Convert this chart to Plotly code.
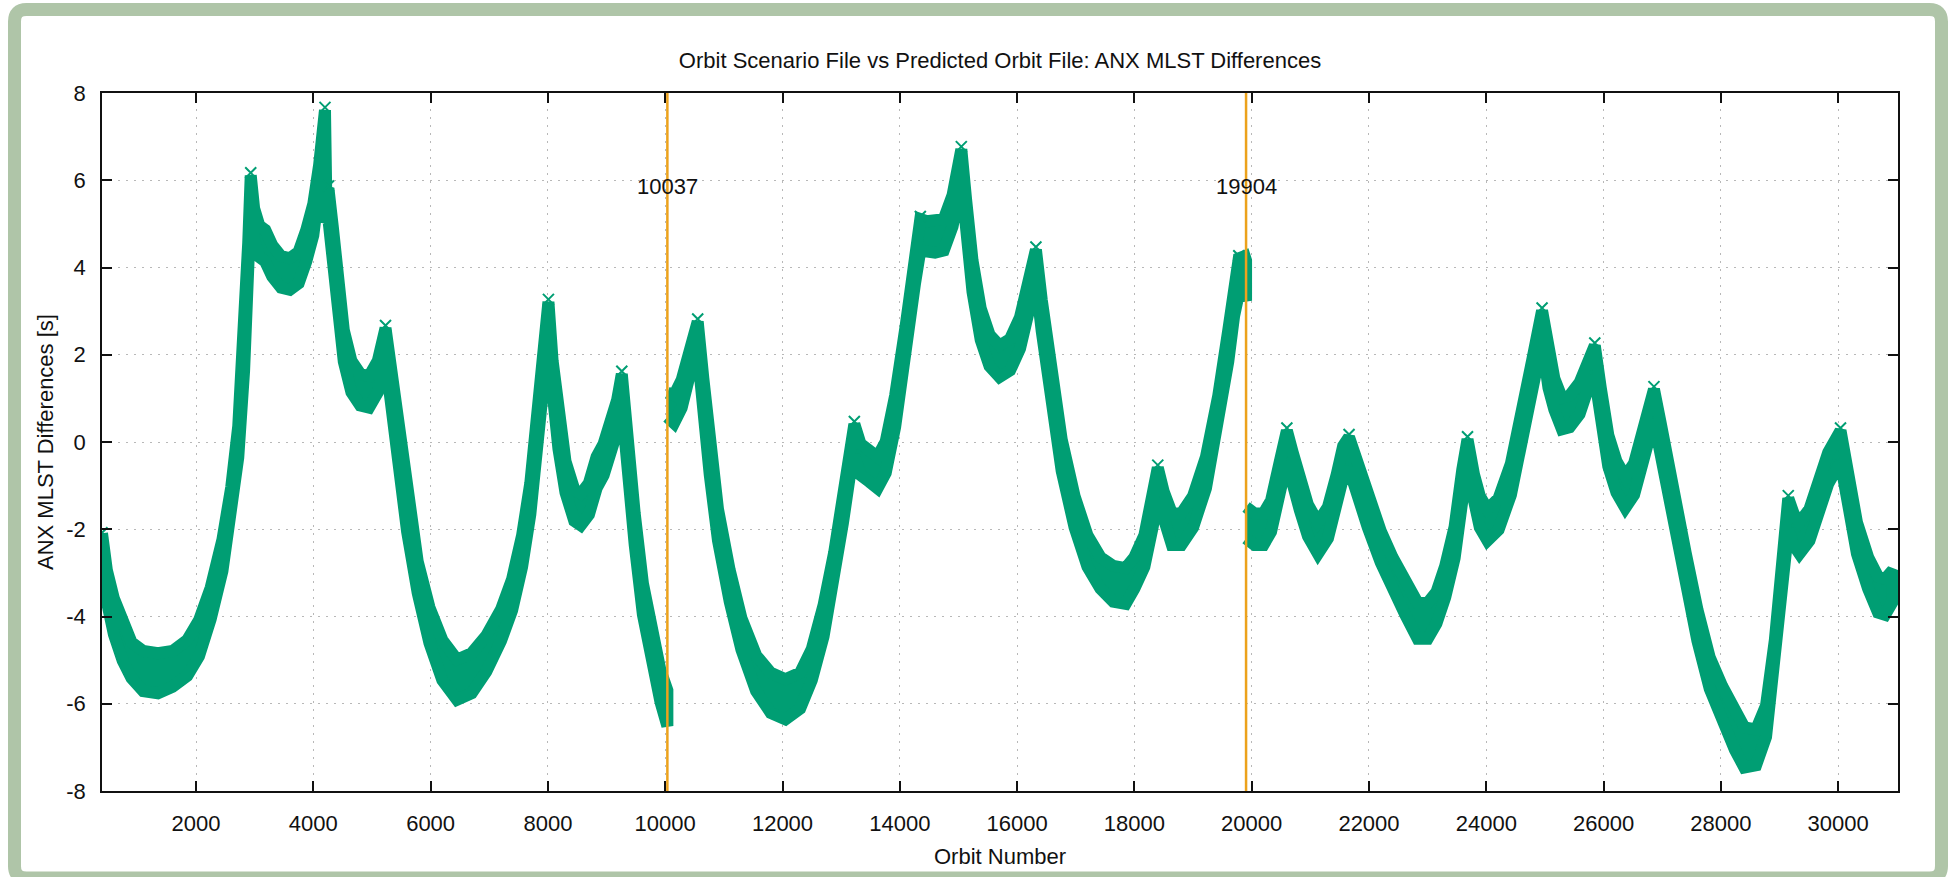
import plotly.graph_objects as go

GREEN = "#009e73"
ORANGE = "#eca21c"
FRAME = "#afc5a8"
FONT = "Liberation Sans, Arial, Helvetica, sans-serif"

# ANX MLST difference band:
# (orbit number, centre of the marker cloud [s], half spread of the cloud [s])
SEG_1 = [
    (397, -2.45, 0.36), (480, -3.3, 0.36), (600, -4.0, 0.41), (750, -4.6, 0.41),
    (900, -5.0, 0.41), (1100, -5.25, 0.46), (1350, -5.3, 0.46), (1600, -5.2, 0.41),
    (1850, -4.95, 0.41), (2050, -4.5, 0.41), (2250, -3.7, 0.36), (2450, -2.6, 0.36),
    (2600, -1.4, 0.36), (2720, 0.0, 0.36), (2820, 2.0, 0.36), (2890, 4.2, 0.36),
    (2933, 5.75, 0.36), (2990, 5.0, 0.36), (3080, 4.6, 0.36), (3180, 4.5, 0.36),
    (3300, 4.15, 0.36), (3450, 3.9, 0.36), (3600, 3.85, 0.36), (3750, 4.0, 0.36),
    (3880, 4.5, 0.36), (4000, 5.1, 0.36), (4100, 6.0, 0.36), (4199, 7.25, 0.36),
    (4220, 5.4, 0.36), (4258, 5.45, 0.36), (4330, 4.6, 0.36), (4420, 3.3, 0.36),
    (4520, 2.2, 0.36), (4650, 1.5, 0.36), (4800, 1.2, 0.36), (4950, 1.15, 0.36),
    (5100, 1.5, 0.36), (5231, 2.25, 0.36), (5330, 1.2, 0.36), (5450, -0.1, 0.36),
    (5600, -1.7, 0.36), (5780, -3.1, 0.36), (5980, -4.2, 0.41), (6200, -5.0, 0.46),
    (6450, -5.45, 0.46), (6700, -5.3, 0.46), (6950, -4.85, 0.41), (7200, -4.2, 0.36),
    (7390, -3.5, 0.36), (7560, -2.5, 0.36), (7700, -1.3, 0.36), (7820, 0.2, 0.36),
    (7920, 1.6, 0.36), (8009, 2.85, 0.36), (8080, 1.5, 0.36), (8180, 0.2, 0.36),
    (8300, -0.8, 0.36), (8450, -1.45, 0.36), (8560, -1.55, 0.36), (8700, -1.3, 0.36),
    (8830, -0.7, 0.36), (8950, -0.4, 0.36), (9080, 0.1, 0.36), (9180, 0.6, 0.36),
    (9260, 1.2, 0.36), (9350, -0.2, 0.36), (9480, -2.0, 0.36), (9620, -3.6, 0.36),
    (9780, -4.8, 0.36), (9920, -5.6, 0.36), (10037, -6.1, 0.41),
]

SEG_2 = [
    (10037, 0.85, 0.28), (10150, 0.75, 0.32), (10280, 1.1, 0.32), (10420, 1.9, 0.36),
    (10554, 2.4, 0.36), (10650, 1.1, 0.36), (10760, -0.4, 0.36), (10900, -1.9, 0.36),
    (11100, -3.3, 0.36), (11300, -4.4, 0.36), (11550, -5.3, 0.41), (11800, -5.75, 0.46),
    (12050, -5.9, 0.46), (12300, -5.7, 0.41), (12500, -5.1, 0.36), (12700, -4.1, 0.36),
    (12880, -2.9, 0.36), (13030, -1.5, 0.36), (13150, -0.4, 0.36), (13225, 0.05, 0.36),
    (13330, -0.4, 0.36), (13480, -0.55, 0.36), (13620, -0.7, 0.36), (13760, -0.35, 0.36),
    (13920, 0.7, 0.36), (14100, 2.3, 0.36), (14260, 4.0, 0.36), (14350, 4.75, 0.36),
    (14460, 4.7, 0.36), (14600, 4.7, 0.36), (14750, 4.75, 0.36), (14900, 5.3, 0.36),
    (15049, 6.35, 0.36), (15130, 5.2, 0.36), (15240, 3.8, 0.36), (15380, 2.7, 0.36),
    (15530, 2.1, 0.36), (15700, 1.85, 0.36), (15880, 2.0, 0.36), (16050, 2.5, 0.36),
    (16200, 3.4, 0.36), (16321, 4.05, 0.36), (16420, 2.9, 0.36), (16560, 1.4, 0.36),
    (16760, -0.3, 0.36), (16980, -1.6, 0.36), (17200, -2.5, 0.36), (17420, -3.0, 0.36),
    (17640, -3.25, 0.41), (17850, -3.3, 0.41), (18000, -3.0, 0.36), (18170, -2.5, 0.36),
    (18310, -1.6, 0.36), (18399, -0.95, 0.36), (18500, -1.5, 0.36), (18640, -2.0, 0.36),
    (18800, -2.0, 0.36), (19000, -1.6, 0.36), (19220, -0.7, 0.36), (19430, 0.7, 0.36),
    (19600, 2.2, 0.36), (19700, 3.3, 0.41), (19780, 3.8, 0.41), (19880, 3.8, 0.46),
    (19904, 3.7, 0.46),
]

SEG_3 = [
    (19904, -1.85, 0.36), (20050, -2.0, 0.36), (20200, -2.0, 0.36), (20330, -1.7, 0.36),
    (20480, -0.8, 0.36), (20600, -0.1, 0.36), (20700, -0.6, 0.36), (20820, -1.2, 0.36),
    (20960, -1.8, 0.36), (21130, -2.2, 0.36), (21300, -1.85, 0.36), (21450, -1.1, 0.36),
    (21560, -0.45, 0.36), (21660, -0.25, 0.36), (21770, -0.7, 0.36), (21980, -1.6, 0.36),
    (22200, -2.4, 0.36), (22400, -3.0, 0.36), (22620, -3.6, 0.36), (22830, -4.1, 0.41),
    (23000, -4.1, 0.41), (23150, -3.8, 0.36), (23300, -3.2, 0.36), (23460, -2.3, 0.36),
    (23590, -1.0, 0.36), (23680, -0.3, 0.36), (23790, -1.1, 0.36), (23890, -1.6, 0.36),
    (24020, -1.9, 0.36), (24210, -1.65, 0.36), (24420, -0.85, 0.36), (24630, 0.4, 0.36),
    (24780, 1.5, 0.36), (24951, 2.65, 0.36), (25060, 1.6, 0.36), (25160, 1.1, 0.36),
    (25290, 0.65, 0.36), (25420, 0.7, 0.36), (25590, 1.0, 0.36), (25740, 1.6, 0.36),
    (25850, 1.85, 0.36), (25950, 0.9, 0.36), (26080, -0.2, 0.36), (26220, -0.8, 0.36),
    (26370, -1.15, 0.36), (26520, -0.85, 0.36), (26690, 0.0, 0.36), (26859, 0.85, 0.36),
    (26970, 0.1, 0.36), (27180, -1.5, 0.36), (27400, -2.9, 0.36), (27600, -4.2, 0.36),
    (27810, -5.3, 0.36), (28020, -6.0, 0.41), (28240, -6.6, 0.46), (28400, -7.0, 0.46),
    (28600, -7.0, 0.41), (28770, -6.4, 0.36), (28920, -4.9, 0.36), (29040, -3.1, 0.36),
    (29149, -1.65, 0.36), (29240, -2.0, 0.36), (29340, -2.2, 0.36), (29510, -1.9, 0.36),
    (29660, -1.3, 0.36), (29830, -0.6, 0.36), (30040, -0.1, 0.36), (30150, -1.0, 0.36),
    (30320, -2.2, 0.36), (30510, -3.0, 0.36), (30680, -3.5, 0.41), (30800, -3.55, 0.41),
    (30930, -3.3, 0.36),
]

# 'x' markers sticking out at the cusp tips (marker centres)
TIP_ORBIT = [397, 2933, 4199, 4258, 5231, 8009, 9260, 10554, 13225, 14350,
             15049, 16321, 18399, 19780, 20600, 21660, 23680, 24951, 25850,
             26859, 29149, 30040]
TIP_VALUE = [-2.08, 6.17, 7.67, 5.87, 2.67, 3.27, 1.62, 2.82, 0.47, 5.17,
             6.77, 4.47, -0.53, 4.27, 0.32, 0.17, 0.12, 3.07, 2.27,
             1.27, -1.23, 0.32]

# orbits where the predicted orbit file was switched
EVENT_ORBIT = [10037, 19904]
EVENT_LABEL = ["10037", "19904"]

X_RANGE = [397, 31020]
X_TICKS = [2000, 4000, 6000, 8000, 10000, 12000, 14000, 16000, 18000, 20000,
           22000, 24000, 26000, 28000, 30000]
Y_TICKS = [-8, -6, -4, -2, 0, 2, 4, 6, 8]
Y_TICK_TEXT = ["-8", "-6", "-4", "-2", "0", "2", "4", "6", "8"]

W, H = 1950, 877
L, R, T, B = 102, 52, 93, 86


def px_x(p):
    return (p - L) / (W - L - R)


def px_y(p):
    return (H - B - p) / (H - T - B)


fig = go.Figure()

for seg in (SEG_1, SEG_2, SEG_3):
    orb = [r[0] for r in seg]
    hi = [r[1] + r[2] for r in seg]
    lo = [r[1] - r[2] for r in seg]
    fig.add_trace(go.Scatter(
        x=orb + orb[::-1],
        y=hi + lo[::-1],
        mode="lines",
        fill="toself",
        fillcolor=GREEN,
        line=dict(color=GREEN, width=12),
        hoverinfo="skip",
    ))

fig.add_trace(go.Scatter(
    x=TIP_ORBIT, y=TIP_VALUE, mode="markers",
    marker=dict(symbol="x-thin", size=11, line=dict(width=2, color=GREEN)),
    hoverinfo="skip",
))

for orb, lab in zip(EVENT_ORBIT, EVENT_LABEL):
    fig.add_shape(type="line", x0=orb, x1=orb, xref="x", y0=0, y1=1, yref="paper",
                  line=dict(color=ORANGE, width=2.5), layer="above")
    fig.add_annotation(x=orb, y=6, text=lab, showarrow=False, xanchor="center",
                       yanchor="middle", yshift=-6, font=dict(size=22, color="#111"))

# axis titles
fig.add_annotation(text="ANX MLST Differences [s]", xref="paper", yref="paper",
                   x=px_x(45), y=0.5, textangle=-90, showarrow=False,
                   xanchor="center", yanchor="middle", font=dict(size=22, color="#111"))
fig.add_annotation(text="Orbit Number", xref="paper", yref="paper",
                   x=0.5, y=px_y(856), showarrow=False,
                   xanchor="center", yanchor="middle", font=dict(size=22, color="#111"))

# rounded green frame round the whole picture
fl, ft, fr, fb, rad = 14.5, 9.5, 1941.5, 878, 12
pts = [
    ("M", [(fl + rad, ft)]), ("L", [(fr - rad, ft)]), ("Q", [(fr, ft), (fr, ft + rad)]),
    ("L", [(fr, fb - rad)]), ("Q", [(fr, fb), (fr - rad, fb)]),
    ("L", [(fl + rad, fb)]), ("Q", [(fl, fb), (fl, fb - rad)]),
    ("L", [(fl, ft + rad)]), ("Q", [(fl, ft), (fl + rad, ft)]),
]
path = " ".join(cmd + " " + " ".join(f"{px_x(a):.5f},{px_y(b):.5f}" for a, b in p)
                for cmd, p in pts) + " Z"
fig.add_shape(type="path", path=path, xref="paper", yref="paper",
              line=dict(color=FRAME, width=13), layer="above")

axis_common = dict(
    showline=True, linecolor="#111", linewidth=1.5, mirror="ticks",
    ticks="inside", ticklen=10, tickwidth=1.5, tickcolor="#111",
    showgrid=True, gridcolor="#b8b8b8", gridwidth=1, griddash="2px,6px",
    zeroline=False, tickfont=dict(size=22, color="#111"),
)

fig.update_layout(
    width=W, height=H,
    margin=dict(l=L, r=R, t=T, b=B),
    paper_bgcolor="white",
    plot_bgcolor="white",
    font=dict(family=FONT, size=22, color="#111"),
    showlegend=False,
    title=dict(text="Orbit Scenario File vs Predicted Orbit File: ANX MLST Differences",
               x=0.5, xref="paper", xanchor="center",
               y=1 - 60 / H, yref="container", yanchor="middle",
               font=dict(size=22, color="#111")),
    xaxis=dict(range=X_RANGE, tickvals=X_TICKS, tickformat="d",
               ticklabelstandoff=12, **axis_common),
    yaxis=dict(range=[-8, 8], tickvals=Y_TICKS, ticktext=Y_TICK_TEXT,
               ticklabelstandoff=10, **axis_common),
)

fig.write_html("out.html", config={"displayModeBar": False},
               post_script="document.body.style.margin='0';")
